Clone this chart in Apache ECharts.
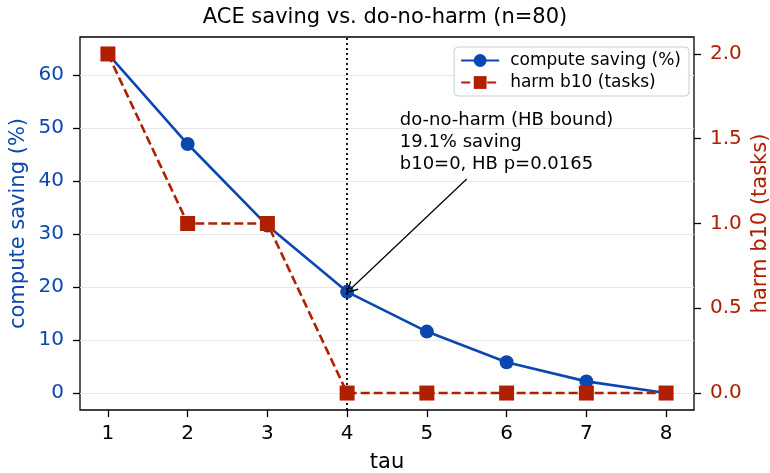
<!DOCTYPE html>
<html>
<head>
<meta charset="utf-8">
<script src="https://cdn.jsdelivr.net/npm/echarts@6/dist/echarts.min.js"></script>
<style>html,body{margin:0;padding:0;background:#fff}#c{width:770px;height:473px}</style>
</head>
<body>
<div id="c"></div>
<script>
const taus = [1, 2, 3, 4, 5, 6, 7, 8];
const computeSaving = [64.0, 47.0, 31.6, 19.1, 11.6, 5.8, 2.2, 0.0];
const harmB10 = [2, 1, 1, 0, 0, 0, 0, 0];
const leftTicks = [0, 10, 20, 30, 40, 50, 60];
const rightTicks = [0, 0.5, 1.0, 1.5, 2.0];
const chosenTau = 4;
const chosenSaving = 19.1;
const annotText = 'do-no-harm (HB bound)\n19.1% saving\nb10=0, HB p=0.0165';
const annotTextAt = [4.66, 53.5];
const arrowFrom = [5.5, 40.4];

const BLUE = '#0b47b0';
const RED = '#b02000';
const FONT = 'DejaVu Sans';

const chart = echarts.init(document.getElementById('c'), null, {renderer: 'canvas'});
chart.setOption({
  animation: false,
  backgroundColor: '#fff',
  textStyle: {fontFamily: FONT},
  title: {
    text: 'ACE saving vs. do-no-harm (n=80)',
    left: 'center', top: 2,
    textStyle: {fontFamily: FONT, fontSize: 21, fontWeight: 'normal', color: '#000'}
  },
  grid: {left: 80, right: 76, top: 37, bottom: 63, containLabel: false, outerBoundsMode: 'none',
    show: true, borderColor: '#000', borderWidth: 1.3, backgroundColor: 'transparent'},
  legend: {
    orient: 'vertical', right: 81, top: 47,
    itemWidth: 38, itemHeight: 16, itemGap: 5,
    padding: [5, 8, 5, 6],
    backgroundColor: 'rgba(255,255,255,0.85)',
    borderColor: '#cccccc', borderWidth: 1, borderRadius: 4,
    textStyle: {fontFamily: FONT, fontSize: 17, color: '#000', padding: [0, 0, 0, 6]},
    data: ['compute saving (%)', 'harm b10 (tasks)']
  },
  xAxis: {
    type: 'value', min: 0.65, max: 8.35,
    name: 'tau', nameLocation: 'middle', nameGap: 42, nameMoveOverlap: false,
    nameTextStyle: {fontFamily: FONT, fontSize: 21, color: '#000'},
    axisLine: {show: false, onZero: false},
    axisTick: {show: true, customValues: taus, length: 7, lineStyle: {color: '#000', width: 1.3}},
    axisLabel: {customValues: taus, fontFamily: FONT, fontSize: 20, color: '#000', margin: 14},
    splitLine: {show: false}
  },
  yAxis: [
    {
      type: 'value', min: -3.2, max: 67.2, position: 'left',
      name: 'compute saving (%)', nameLocation: 'middle', nameGap: 51, nameMoveOverlap: false,
      nameTextStyle: {fontFamily: FONT, fontSize: 21, color: BLUE},
      axisLine: {show: false, onZero: false},
      axisTick: {show: true, customValues: leftTicks, length: 7, lineStyle: {color: '#000', width: 1.3}},
      axisLabel: {customValues: leftTicks, fontFamily: FONT, fontSize: 20, color: BLUE, margin: 16},
      splitLine: {show: true, lineStyle: {color: '#e6e6e6', width: 1.2}}
    },
    {
      type: 'value', min: -0.1, max: 2.1, position: 'right',
      name: 'harm b10 (tasks)', nameLocation: 'middle', nameGap: 56, nameRotate: 90, nameMoveOverlap: false,
      nameTextStyle: {fontFamily: FONT, fontSize: 21, color: RED},
      axisLine: {show: false, onZero: false},
      axisTick: {show: true, customValues: rightTicks, length: 7, lineStyle: {color: '#000', width: 1.3}},
      axisLabel: {customValues: rightTicks, fontFamily: FONT, fontSize: 20, color: RED, margin: 16,
        formatter: v => v.toFixed(1)},
      splitLine: {show: false}
    }
  ],
  series: [
    {
      name: 'compute saving (%)', type: 'line', yAxisIndex: 0,
      data: taus.map((t, i) => [t, computeSaving[i]]),
      symbol: 'circle', symbolSize: 14,
      lineStyle: {color: BLUE, width: 2.6},
      itemStyle: {color: BLUE},
      z: 4,
      markLine: {
        silent: true, animation: false,
        label: {show: false},
        data: [
          [{coord: [chosenTau, -3.2], symbol: 'none', lineStyle: {color: '#000', width: 1.8, type: [2, 3]}},
           {coord: [chosenTau, 67.2], symbol: 'none'}],
          [{coord: arrowFrom, symbol: 'none', lineStyle: {color: '#000', width: 1.2, type: 'solid'}},
           {coord: [chosenTau + 0.04, chosenSaving + 0.5], symbol: 'path://M5,0 L10,9 L9,9.6 L5,2.2 L1,9.6 L0,9 Z', symbolSize: [12, 12]}]
        ]
      },
      markPoint: {
        silent: true,
        data: [{
          coord: annotTextAt, symbol: 'rect', symbolSize: 0,
          label: {show: true, position: [0, 0], align: 'left', verticalAlign: 'top',
            formatter: annotText, fontFamily: FONT, fontSize: 18, lineHeight: 21.7, color: '#000'}
        }]
      }
    },
    {
      name: 'harm b10 (tasks)', type: 'line', yAxisIndex: 1,
      data: taus.map((t, i) => [t, harmB10[i]]),
      symbol: 'rect', symbolSize: 15,
      lineStyle: {color: RED, width: 2.6, type: [9, 4]},
      itemStyle: {color: RED},
      z: 5
    }
  ]
});
</script>
</body>
</html>
